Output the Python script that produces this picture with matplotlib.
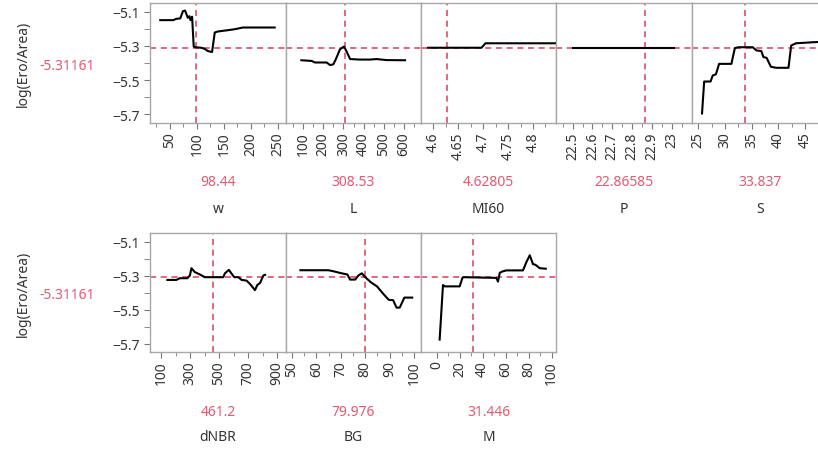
import matplotlib.pyplot as plt
from matplotlib.ticker import MultipleLocator, FixedLocator

plt.rcParams['font.family'] = ['Noto Sans', 'DejaVu Sans']

# prediction profiler: log(Ero/Area) against each factor
resp_label = "log(Ero/Area)"
resp_now = -5.31161

w_x = [32, 56, 62, 69, 74, 78, 83, 86, 88, 91, 94, 97, 108, 114, 120, 128, 133, 139, 154, 170, 185, 218, 244]
w_y = [-5.15, -5.15, -5.142, -5.14, -5.098, -5.094, -5.136, -5.127, -5.15, -5.13, -5.304, -5.308,
       -5.311, -5.317, -5.33, -5.336, -5.222, -5.216, -5.21, -5.203, -5.193, -5.193, -5.193]

L_x = [92, 143, 159, 217, 234, 250, 263, 283, 303, 316, 333, 382, 431, 464, 513, 605]
L_y = [-5.384, -5.388, -5.397, -5.397, -5.412, -5.408, -5.377, -5.32, -5.304, -5.333,
       -5.377, -5.38, -5.38, -5.377, -5.383, -5.384]

mi_x = [4.59, 4.697, 4.705, 4.85]
mi_y = [-5.311, -5.311, -5.285, -5.285]

p_x = [22.5, 23.01]
p_y = [-5.311, -5.311]

s_x = [25.7, 26.1, 27.3, 27.7, 28.3, 28.9, 31.2, 31.85, 32.5, 35.2, 35.9, 36.8, 37.2, 37.8,
       38.6, 39.6, 41.9, 42.4, 43.3, 47, 50]
s_y = [-5.694, -5.508, -5.508, -5.473, -5.466, -5.405, -5.405, -5.313, -5.308, -5.308, -5.327,
       -5.33, -5.365, -5.37, -5.422, -5.428, -5.428, -5.298, -5.285, -5.278, -5.275]

dnbr_x = [144, 206, 229, 282, 299, 310, 333, 368, 402, 529, 541, 568, 591, 605, 633, 656, 690,
          714, 748, 764, 783, 806, 818]
dnbr_y = [-5.326, -5.326, -5.316, -5.316, -5.30, -5.257, -5.28, -5.294, -5.31, -5.31, -5.287,
          -5.267, -5.294, -5.31, -5.31, -5.326, -5.33, -5.35, -5.386, -5.356, -5.344, -5.30, -5.296]

bg_x = [53.5, 64.9, 67, 69.7, 72.7, 73.8, 75.9, 77.2, 78.6, 80, 82.3, 84.8, 87.5, 89.6, 91.4,
        92.8, 94.1, 96, 99.2]
bg_y = [-5.269, -5.269, -5.275, -5.285, -5.294, -5.324, -5.324, -5.30, -5.287, -5.31, -5.34,
        -5.364, -5.41, -5.443, -5.445, -5.489, -5.489, -5.43, -5.43]

m_x = [2.6, 5.5, 7, 20, 22.3, 22.9, 51.8, 53.3, 54.8, 56.8, 60.5, 75, 78, 80.9, 83.7, 85.8, 89.6, 94.8]
m_y = [-5.677, -5.356, -5.364, -5.364, -5.316, -5.31, -5.314, -5.336, -5.285, -5.277, -5.27,
       -5.27, -5.221, -5.181, -5.233, -5.237, -5.257, -5.26]

# name, x, y, current setting, setting text, xlim, labelled ticks, minor ticks
top_row = [
    ("w", w_x, w_y, 98.44, "98.44", (13, 265), range(50, 251, 50), range(25, 251, 25)),
    ("L", L_x, L_y, 308.53, "308.53", (16, 684), range(100, 601, 100), range(50, 651, 50)),
    ("MI60", mi_x, mi_y, 4.62805, "4.62805", (4.576, 4.846),
     [4.6, 4.65, 4.7, 4.75, 4.8], [4.6 + 0.025 * i for i in range(10)]),
    ("P", p_x, p_y, 22.86585, "22.86585", (22.416, 23.103),
     [22.5, 22.6, 22.7, 22.8, 22.9, 23.0], [22.45 + 0.05 * i for i in range(13)]),
    ("S", s_x, s_y, 33.837, "33.837", (23.82, 49.3), range(25, 46, 5), [25 + 2.5 * i for i in range(10)]),
]
bot_row = [
    ("dNBR", dnbr_x, dnbr_y, 461.2, "461.2", (24, 962), range(100, 901, 200), range(100, 901, 100)),
    ("BG", bg_x, bg_y, 79.976, "79.976", (47.6, 102.8), range(50, 101, 10), range(50, 101, 5)),
    ("M", m_x, m_y, 31.446, "31.446", (-13.6, 103.7), range(0, 101, 20), range(0, 101, 10)),
]

W, H = 818, 452
red = '#d8405c'
red_txt = '#e45a72'
edges = [150, 286, 421, 556, 692, 828]

fig = plt.figure(figsize=(W / 100, H / 100), dpi=100)


def fmt(v):
    s = f"{v:g}"
    return s


def draw_row(panels, y0, y1, y_val, y_name):
    for i, (name, xs, ys, cur, cur_txt, xlim, major, minor) in enumerate(panels):
        x0, x1 = edges[i], edges[i + 1]
        ax = fig.add_axes([x0 / W, 1 - y1 / H, (x1 - x0) / W, (y1 - y0) / H])
        ax.plot(xs, ys, color='black', lw=1.5, zorder=3)
        ax.axhline(resp_now, color=red, lw=1.1, ls=(0, (4, 3)), zorder=2)
        ax.axvline(cur, color=red, lw=1.1, ls=(0, (4, 3)), zorder=2)
        ax.set_xlim(*xlim)
        ax.set_ylim(-5.75, -5.05)
        ax.xaxis.set_major_locator(FixedLocator(list(major)))
        ax.xaxis.set_minor_locator(FixedLocator(list(minor)))
        ax.set_xticklabels([fmt(v) for v in major], rotation=90)
        ax.tick_params(axis='x', which='both', direction='out', color='#777777',
                       labelsize=10, labelcolor='#333333', pad=2)
        ax.tick_params(axis='x', which='major', length=4)
        ax.tick_params(axis='x', which='minor', length=3)
        for sp in ax.spines.values():
            sp.set_color('#a8a8a8')
            sp.set_linewidth(1.0)
        if i == 0:
            ax.yaxis.set_major_locator(FixedLocator([-5.7, -5.5, -5.3, -5.1]))
            ax.yaxis.set_minor_locator(FixedLocator([-5.6, -5.4, -5.2]))
            ax.tick_params(axis='y', which='both', direction='out', length=4, color='#777777',
                           labelsize=10, labelcolor='#333333', pad=3)
        else:
            ax.tick_params(axis='y', which='both', left=False, labelleft=False)
        xc = (x0 + min(x1, W + 10)) / 2
        fig.text(xc / W, 1 - y_val / H, cur_txt, color=red_txt, fontsize=10, ha='center', va='center')
        fig.text(xc / W, 1 - y_name / H, name, color='#333333', fontsize=10, ha='center', va='center')
    yc = (y0 + y1) / 2
    fig.text(23 / W, 1 - yc / H, resp_label, rotation=90, color='#333333', fontsize=10,
             ha='center', va='center')
    fig.text(67 / W, 1 - (yc + 2) / H, f"{resp_now}", color=red_txt, fontsize=10,
             ha='center', va='center')


draw_row(top_row, 4, 124, 183, 210)
draw_row(bot_row, 234, 353, 413, 438)

fig.savefig("out.png", dpi=100)
